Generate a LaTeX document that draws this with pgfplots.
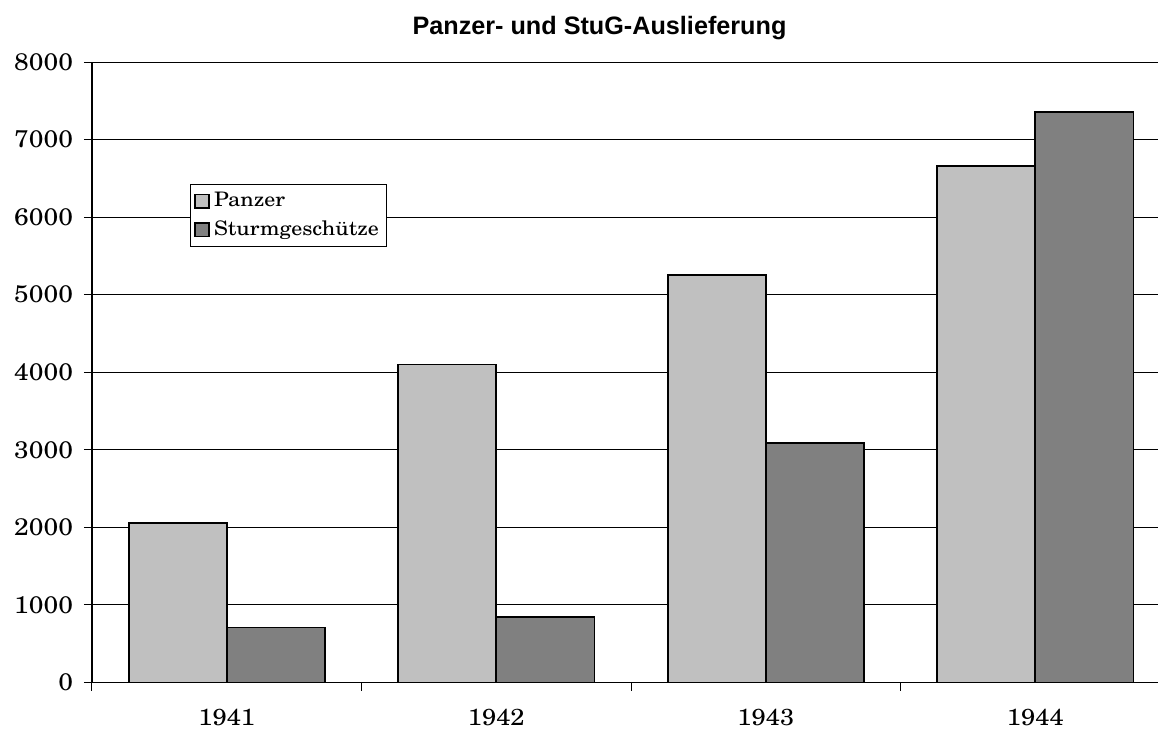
\documentclass[border=0pt]{standalone}
\usepackage{fontspec}
\setmainfont{TeX Gyre Schola}[FakeStretch=1.1]
\newfontfamily\titlefont{Liberation Sans}
\usepackage{pgfplots}
\pgfplotsset{compat=1.18}
\definecolor{panzer}{HTML}{C0C0C0}
\definecolor{stug}{HTML}{808080}
\begin{document}
\begin{tikzpicture}
\useasboundingbox (0,0) rectangle (579pt,365pt);
\begin{axis}[
  at={(46pt,23.75pt)}, anchor=south west,
  scale only axis, width=533pt, height=310.25pt,
  xmin=-0.5, xmax=3.455, ymin=0, ymax=8000,
  ybar=0pt, bar width=0.364,
  axis x line*=bottom, axis y line*=left,
  axis line style={-, black, line width=0.6pt},
  xtick={0,1,2,3}, xticklabels={1941,1942,1943,1944},
  major x tick style={draw=none},
  minor xtick={-0.5,0.5,1.5,2.5},
  minor tick length=4pt, major tick length=4pt,
  tick align=outside,
  tick style={black, line width=0.5pt},
  ytick={0,1000,...,8000},
  ymajorgrids, grid style={black, line width=0.5pt},
  scaled y ticks=false,
  /pgf/number format/.cd, set thousands separator={}, assume math mode=true,
  /pgfplots/.cd,
  tick label style={font=\fontsize{12}{14}\selectfont},
  xticklabel style={yshift=-6pt, font=\fontsize{11.6}{14}\selectfont},
  yticklabel style={xshift=-2pt},
  legend style={at={(axis description cs:0.0919,0.8035)}, anchor=north west,
    draw=black, line width=0.5pt, font=\fontsize{10}{12}\selectfont,
    inner xsep=2pt, inner ysep=2pt, row sep=1.5pt, cells={anchor=west}},
  legend image code/.code={\draw[#1, line width=0.8pt] (0pt,-3.4pt) rectangle (7pt,3.4pt);},
]
\addplot[fill=panzer, draw=black, line width=0.9pt, bar shift=-0.182] coordinates {(0,2056) (1,4100) (2,5257) (3,6660)};
\addplot[fill=stug, draw=black, line width=0.9pt, bar shift=0.182] coordinates {(0,708) (1,842) (2,3090) (3,7355)};
\legend{Panzer, Sturmgeschütze}
\end{axis}
\node[anchor=base, inner sep=0pt, font=\titlefont\bfseries\fontsize{12.6}{15}\selectfont] at (299.75pt,347.8pt) {Panzer- und StuG-Auslieferung};
\end{tikzpicture}
\end{document}
